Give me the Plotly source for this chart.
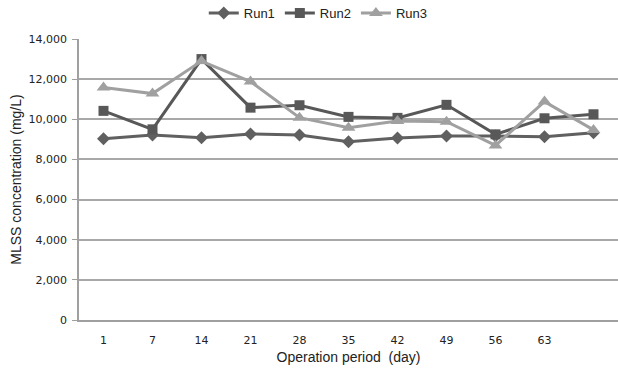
import plotly.graph_objects as go

days = ["1", "7", "14", "21", "28", "35", "42", "49", "56", "63", ""]
run1 = [9030, 9220, 9080, 9270, 9220, 8880, 9070, 9170, 9170, 9130, 9330]
run2 = [10420, 9500, 13000, 10580, 10700, 10120, 10070, 10720, 9250, 10050, 10250]
run3 = [11580, 11280, 12900, 11880, 10080, 9580, 9920, 9880, 8700, 10880, 9470]

idx = list(range(len(days)))

fig = go.Figure()
fig.add_trace(go.Scatter(x=idx, y=run1, name="Run1", mode="lines+markers",
                         line=dict(color="#606060", width=3),
                         marker=dict(symbol="diamond", size=10, color="#606060")))
fig.add_trace(go.Scatter(x=idx, y=run2, name="Run2", mode="lines+markers",
                         line=dict(color="#585858", width=3),
                         marker=dict(symbol="square", size=10, color="#585858")))
fig.add_trace(go.Scatter(x=idx, y=run3, name="Run3", mode="lines+markers",
                         line=dict(color="#a0a0a0", width=3),
                         marker=dict(symbol="triangle-up", size=12, color="#a0a0a0")))

fig.update_layout(
    width=618, height=374,
    margin=dict(l=79, r=0, t=39, b=54, autoexpand=False),
    paper_bgcolor="white", plot_bgcolor="white",
    font=dict(family="Liberation Sans, Arial, sans-serif", size=12, color="#222222"),
    showlegend=True,
    legend=dict(orientation="h", x=0.515, xanchor="center", xref="container",
                y=1 - 13 / 374, yanchor="middle", yref="container",
                font=dict(size=13)),
    xaxis=dict(
        automargin=False,
        tickmode="array", tickvals=idx, ticktext=days,
        range=[-0.5, len(days) - 0.5],
        showgrid=False, zeroline=False,
        showline=True, linecolor="#a0a0a0", linewidth=1.5,
        ticks="", ticklabelstandoff=9,
        tickfont=dict(family="DejaVu Sans, Verdana, sans-serif", size=11),
        title=dict(text="Operation period  (day)", font=dict(size=14), standoff=6),
    ),
    yaxis=dict(
        automargin=False,
        range=[0, 14000], dtick=2000, tickformat=",",
        showgrid=True, gridcolor="#a8a8a8", gridwidth=1.5,
        zeroline=False, showline=True, linecolor="#a0a0a0", linewidth=1.5,
        ticks="outside", ticklen=5, tickcolor="#a0a0a0", ticklabelstandoff=3,
        tickfont=dict(family="DejaVu Sans, Verdana, sans-serif", size=11),
        title=dict(text="MLSS concentration (mg/L)", font=dict(size=14), standoff=4),
    ),
)

fig.write_html(
    "out.html",
    config={"displayModeBar": False},
    post_script="document.body.style.margin='0';document.body.style.overflow='hidden';",
)
